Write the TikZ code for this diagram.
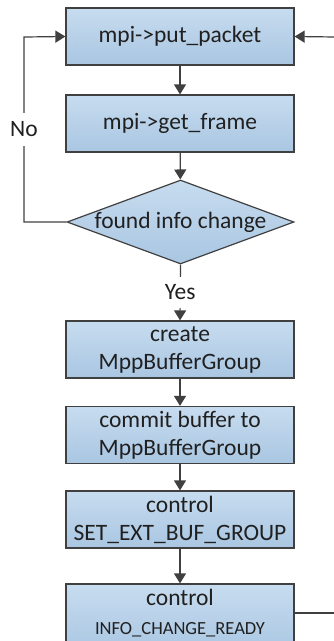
\documentclass[tikz,border=0pt]{standalone}
\usepackage{fontspec}
\setmainfont{Carlito}
\usetikzlibrary{arrows.meta,shapes.geometric}
\definecolor{edge}{HTML}{404040}
\definecolor{txt}{HTML}{202020}
\definecolor{ftop}{HTML}{C7DCEF}
\definecolor{fbot}{HTML}{A9C6E2}
\begin{document}
\begin{tikzpicture}[x=1pt,y=-1pt,
  stepbox/.style={draw=edge,line width=1.2pt,top color=ftop,bottom color=fbot,
    minimum width=228pt,minimum height=57pt,inner sep=0pt,align=center,
    text=txt,font=\fontsize{23.5}{28}\selectfont},
  decision/.style={diamond,draw=edge,line width=1.2pt,top color=ftop,bottom color=fbot,
    minimum width=227pt,minimum height=84pt,inner sep=0pt},
  lbl/.style={text=txt,font=\fontsize{23.5}{28}\selectfont,fill=white,inner sep=0pt},
  conn/.style={draw=edge,line width=1.2pt},
  arr/.style={conn,-{Triangle[length=10pt,width=12pt]}}]
\useasboundingbox (0,0) rectangle (333,641);
\node[stepbox] (b1) at (180,36.5) {mpi->put\_packet};
\node[stepbox] (b2) at (180,123.5) {mpi->get\_frame};
\node[decision] (d) at (180.5,222) {};
\node[text=txt,font=\fontsize{23.5}{28}\selectfont] (dt) at (d.center) {found info change};
\node[stepbox] (b3) at (180,349.5) {create\\MppBufferGroup};
\node[stepbox] (b4) at (180,435) {commit buffer to\\MppBufferGroup};
\node[stepbox] (b5) at (180,519.5) {control\\SET\_EXT\_BUF\_GROUP};
\node[stepbox,minimum height=70pt] (b6) at (180,619) {control\\[1pt]{\fontsize{18.5}{22}\selectfont INFO\_CHANGE\_READY}\\[-14pt]\mbox{}};
\coordinate (lc) at (24,222);
\coordinate (lt) at (24,37);
\coordinate (rt) at (336,37);
\coordinate (rb) at (336,613);
\draw[arr] (b1) -- (b2);
\draw[arr] (b2) -- (d);
\draw[arr] (d.south) -- node[lbl,inner ysep=7.5pt,inner xsep=2pt] {Yes} (b3.north);
\draw[arr] (b3) -- (b4);
\draw[arr] (b4) -- (b5);
\draw[arr] (b5) -- (b6);
\draw[arr] (d.west) -- (lc) -- node[lbl,pos=0.5,inner ysep=9pt,inner xsep=1pt] {No} (lt) -- (b1.west);
\draw[arr] (rt) -- (b1.east);
\draw[conn] (b6.east |- rb) -- (rb);
\end{tikzpicture}
\end{document}
